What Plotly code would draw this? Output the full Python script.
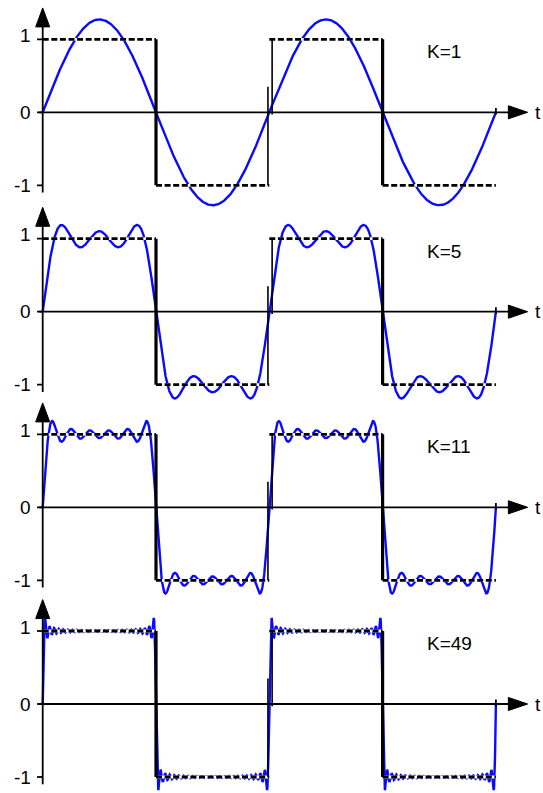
import numpy as np
import plotly.graph_objects as go

# ---------------- data ----------------
K_VALUES = [1, 5, 11, 49]                  # highest harmonic used in each panel
K_LABELS = ["K=1", "K=5", "K=11", "K=49"]
EDGE_T = [0, 1, 2, 3, 4]                   # square-wave edges (half periods)
SQUARE_LEVELS = [1, -1, 1, -1]             # level of each half period
Y_TICKS = [1, 0, -1]
Y_TICK_TEXT = ["1", "0", "-1"]
AXIS_LABEL = "t"

# ---------------- geometry ----------------
W, H = 543, 793
X0_PX, X_UNIT = 42.7, 113.3                # t=0 pixel, pixels per t unit
ZERO_PX = [112.3, 311.7, 507.3, 704.0]     # y=0 pixel of each panel
Y_UNIT = 73.0
ABOVE, BELOW = 107, 97

FONT = "Liberation Sans, Arial, Helvetica, sans-serif"
BLUE = "#0a0aff"

x_range = [-X0_PX / X_UNIT, (W - X0_PX) / X_UNIT]

fig = go.Figure()
layout = dict(width=W, height=H, margin=dict(l=0, r=0, t=0, b=0),
              paper_bgcolor="white", plot_bgcolor="rgba(0,0,0,0)",
              showlegend=False)
annotations = []

t = np.linspace(0, EDGE_T[-1], 3001)

for i, K in enumerate(K_VALUES):
    sfx = "" if i == 0 else str(i + 1)
    xa, ya = "x" + sfx, "y" + sfx
    z = ZERO_PX[i]
    top_px = z - ABOVE
    bot_px = min(z + BELOW, H)
    dom = [1 - bot_px / H, 1 - top_px / H]
    layout["xaxis" + sfx] = dict(domain=[0, 1], range=x_range, visible=False,
                                 anchor=ya, fixedrange=True)
    layout["yaxis" + sfx] = dict(domain=dom,
                                 range=[-(bot_px - z) / Y_UNIT, ABOVE / Y_UNIT],
                                 visible=False, anchor=xa, fixedrange=True)

    def add(x, y, **kw):
        fig.add_trace(go.Scatter(x=x, y=y, xaxis=xa, yaxis=ya, mode="lines",
                                 hoverinfo="skip", **kw))

    # Fourier partial sum of the square wave
    f = np.zeros_like(t)
    for n in range(1, K + 1, 2):
        f += np.sin(n * np.pi * t) / n
    f *= 4 / np.pi
    add(t, f, line=dict(color=BLUE, width=2.4))

    # square wave horizontal parts (white backing + black dashes)
    hx, hy = [], []
    for a, b, lv in zip(EDGE_T[:-1], EDGE_T[1:], SQUARE_LEVELS):
        hx += [a, b, None]
        hy += [lv, lv, None]
    add(hx, hy, line=dict(color="white", width=2.8))
    add(hx, hy, line=dict(color="black", width=2.8, dash="6px,2.6px"))

    # falling edges (thick)
    vx, vy = [], []
    for j in range(1, len(EDGE_T) - 1):
        if SQUARE_LEVELS[j - 1] > SQUARE_LEVELS[j]:
            vx += [EDGE_T[j], EDGE_T[j], None]
            vy += [SQUARE_LEVELS[j - 1], SQUARE_LEVELS[j], None]
    add(vx, vy, line=dict(color="black", width=3.2))
    # rising edge (thin, drawn as two strokes)
    rx, ry = [], []
    for j in range(1, len(EDGE_T) - 1):
        if SQUARE_LEVELS[j - 1] < SQUARE_LEVELS[j]:
            e = EDGE_T[j]
            rx += [e - 0.012, e - 0.012, None, e + 0.025, e + 0.025, None]
            ry += [SQUARE_LEVELS[j - 1], 0.35, None, -0.03, SQUARE_LEVELS[j], None]
    add(rx, ry, line=dict(color="black", width=1.6))

    # axes
    add([-0.03, 4.13], [0, 0], line=dict(color="black", width=1.8))
    add([0, 0], [-1.1, 1.2], line=dict(color="black", width=1.8))
    tx, ty = [], []
    for v in Y_TICKS:
        tx += [-0.05, 0, None]
        ty += [v, v, None]
    tx += [EDGE_T[-1], EDGE_T[-1], None]
    ty += [-0.03, 0.06, None]
    add(tx, ty, line=dict(color="black", width=1.8))

    # arrow heads
    add([-0.062, 0.062, 0, -0.062], [1.17, 1.17, 1.43, 1.17], fill="toself",
        fillcolor="black", line=dict(color="black", width=1))
    add([4.11, 4.11, 4.28, 4.11], [0.09, -0.09, 0, 0.09], fill="toself",
        fillcolor="black", line=dict(color="black", width=1))

    # texts
    for v, s in zip(Y_TICKS, Y_TICK_TEXT):
        annotations.append(dict(x=-0.085, y=v, xref=xa, yref=ya, text=s,
                                showarrow=False, xanchor="right", yanchor="middle",
                                yshift=4 if v == 1 else 0,
                                font=dict(family=FONT, size=19, color="black")))
    annotations.append(dict(x=3.37, y=0.83, xref=xa, yref=ya, text=K_LABELS[i],
                            showarrow=False, xanchor="left", yanchor="middle",
                            font=dict(family=FONT, size=19, color="black")))
    annotations.append(dict(x=4.33, y=0, xref=xa, yref=ya, text=AXIS_LABEL,
                            showarrow=False, xanchor="left", yanchor="middle",
                            font=dict(family=FONT, size=19, color="black")))

layout["annotations"] = annotations
fig.update_layout(**layout)
fig.write_html("out.html", config={"displayModeBar": False},
               post_script="document.body.style.margin='0';document.body.style.overflow='hidden';")
